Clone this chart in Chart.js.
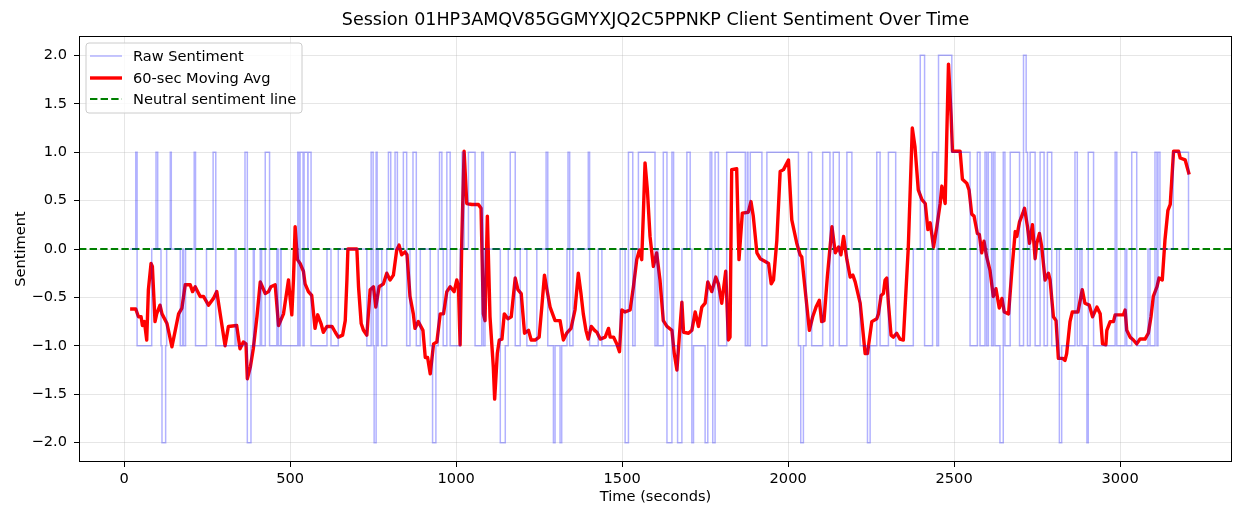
<!DOCTYPE html>
<html><head><meta charset="utf-8">
<script src="https://cdn.jsdelivr.net/npm/chart.js@4.4.1/dist/chart.umd.min.js"></script>
<style>html,body{margin:0;padding:0;background:#fff;overflow:hidden;}#wrap{width:1234px;height:506px;}</style>
</head><body><div id="wrap"><canvas id="c" width="1234" height="506"></canvas></div>
<script>
const chartTitle = "Session 01HP3AMQV85GGMYXJQ2C5PPNKP Client Sentiment Over Time";
const xAxisLabel = "Time (seconds)";
const yAxisLabel = "Sentiment";
const seriesNames = ["Raw Sentiment", "60-sec Moving Avg", "Neutral sentiment line"];
const xTicks = [0, 500, 1000, 1500, 2000, 2500, 3000];
const yTicks = [-2, -1.5, -1, -0.5, 0, 0.5, 1, 1.5, 2];
const xRange = [-136, 3337];
const yRange = [-2.2, 2.2];
const neutralLevel = 0;

// [time (s), sentiment] – value holds from this time until the next entry
const rawSentiment = [
[18,0],[35,1],[39,-1],[83,0],[96,1],[101,0],[111,-1],[114,-2],[125,-1],[128,0],
[139,1],[142,0],[169,-1],[176,0],[179,-1],[185,0],[211,1],[215,-1],[248,0],[268,1],
[276,-1],[334,0],[337,-1],[364,1],[371,-2],[382,-1],[389,0],[392,-1],[410,0],[414,-1],
[425,1],[438,-1],[460,0],[464,-1],[471,0],[473,-1],[523,1],[527,-1],[530,1],[539,-1],
[542,1],[553,0],[554,1],[563,-1],[611,0],[623,-1],[645,0],[731,-1],[744,1],[750,-1],
[753,-2],[759,1],[762,-1],[765,0],[776,-1],[791,0],[796,1],[803,0],[816,1],[823,0],
[841,1],[851,-1],[861,0],[870,1],[880,-1],[892,0],[922,-1],[929,-2],[939,-1],[946,0],
[950,1],[957,0],[961,-1],[972,1],[982,-1],[1012,0],[1018,1],[1024,0],[1037,1],[1057,-1],
[1077,1],[1082,-1],[1087,0],[1133,-2],[1148,-1],[1157,0],[1163,1],[1178,-1],[1193,0],[1213,-1],
[1243,0],[1271,1],[1276,-1],[1293,-2],[1298,-1],[1313,-2],[1318,-1],[1334,0],[1337,1],[1342,-1],
[1352,0],[1398,1],[1402,-1],[1428,0],[1439,-1],[1494,0],[1509,-2],[1519,1],[1532,-1],[1539,0],
[1549,1],[1599,-1],[1605,0],[1608,-1],[1624,1],[1635,-2],[1650,1],[1655,-1],[1667,-2],[1680,0],
[1695,1],[1705,0],[1710,-2],[1715,-1],[1750,-2],[1758,0],[1765,1],[1770,0],[1773,-2],[1780,1],
[1790,-1],[1815,1],[1871,-1],[1877,1],[1879,-1],[1886,1],[1921,-1],[1936,1],[2031,-1],[2038,-2],
[2046,-1],[2054,0],[2061,1],[2071,-1],[2104,1],[2126,-1],[2136,1],[2154,-1],[2177,1],[2192,0],
[2217,-1],[2239,-2],[2247,-1],[2267,1],[2277,-1],[2302,1],[2324,-1],[2377,0],[2398,2],[2411,-1],
[2435,1],[2448,-1],[2453,2],[2493,1],[2548,-1],[2570,1],[2578,-1],[2593,1],[2598,-1],[2603,1],
[2613,-1],[2618,1],[2623,-1],[2638,-2],[2648,1],[2653,-1],[2669,1],[2697,-1],[2709,2],[2717,1],
[2721,-1],[2729,1],[2744,-1],[2759,1],[2771,-1],[2781,1],[2794,-1],[2809,0],[2817,-2],[2824,-1],
[2864,1],[2871,-1],[2879,0],[2885,-1],[2900,-2],[2904,1],[2920,-1],[2985,1],[2990,-1],[3015,0],
[3020,-1],[3035,1],[3050,-1],[3084,0],[3090,-1],[3105,1],[3111,-1],[3114,1],[3120,0],[3160,1],
[3206,0]
];

// [time (s), 60-sec moving average]
const movingAvg = [
[18,-0.62],[35,-0.62],[43,-0.70],[51,-0.70],[55,-0.79],[61,-0.75],[68,-0.94],[73,-0.42],[81,-0.15],[85,-0.18],
[93,-0.75],[98,-0.67],[108,-0.58],[114,-0.67],[129,-0.77],[144,-1.01],[154,-0.84],[164,-0.67],[174,-0.61],[184,-0.37],
[199,-0.37],[206,-0.44],[214,-0.39],[229,-0.49],[239,-0.49],[254,-0.58],[269,-0.51],[279,-0.44],[304,-1.00],[314,-0.80],
[339,-0.79],[349,-1.03],[359,-0.96],[367,-0.98],[371,-1.34],[380,-1.22],[389,-1.03],[400,-0.70],[410,-0.34],[425,-0.46],
[435,-0.44],[442,-0.39],[455,-0.37],[465,-0.79],[480,-0.67],[495,-0.32],[500,-0.51],[505,-0.68],[510,-0.32],[515,0.23],
[522,-0.11],[530,-0.15],[540,-0.23],[545,-0.36],[555,-0.44],[565,-0.48],[575,-0.82],[583,-0.68],[593,-0.77],[600,-0.86],
[611,-0.80],[626,-0.80],[636,-0.86],[645,-0.91],[658,-0.89],[666,-0.74],[671,-0.32],[674,0.00],[701,0.00],[706,-0.39],
[714,-0.77],[721,-0.84],[731,-0.89],[741,-0.42],[751,-0.39],[758,-0.60],[768,-0.39],[781,-0.36],[791,-0.25],[801,-0.32],
[811,-0.27],[821,-0.01],[828,0.04],[836,-0.06],[846,-0.03],[852,-0.06],[861,-0.49],[871,-0.67],[876,-0.82],[886,-0.75],
[900,-0.84],[907,-1.12],[914,-1.12],[922,-1.29],[932,-0.98],[942,-0.96],[952,-0.67],[962,-0.67],[972,-0.44],[982,-0.39],
[994,-0.44],[1002,-0.32],[1007,-0.39],[1012,-0.99],[1017,0.09],[1024,1.01],[1032,0.47],[1047,0.46],[1067,0.46],[1075,0.42],
[1082,-0.67],[1087,-0.74],[1094,0.34],[1102,-0.70],[1112,-1.22],[1116,-1.55],[1124,-1.08],[1130,-0.94],[1138,-0.93],[1145,-0.67],
[1156,-0.72],[1166,-0.70],[1178,-0.30],[1186,-0.42],[1196,-0.46],[1206,-0.87],[1218,-0.84],[1226,-0.94],[1238,-0.94],[1250,-0.91],
[1258,-0.60],[1266,-0.27],[1273,-0.41],[1283,-0.60],[1298,-0.74],[1313,-0.74],[1323,-0.94],[1333,-0.87],[1346,-0.82],[1358,-0.63],
[1368,-0.25],[1376,-0.46],[1383,-0.67],[1391,-0.84],[1398,-0.93],[1407,-0.80],[1417,-0.84],[1424,-0.86],[1434,-0.93],[1449,-0.91],
[1459,-0.82],[1464,-0.91],[1474,-0.91],[1484,-0.98],[1492,-1.06],[1499,-0.63],[1509,-0.65],[1524,-0.63],[1534,-0.39],[1544,-0.11],
[1552,-0.01],[1559,-0.11],[1564,0.37],[1569,0.89],[1576,0.61],[1584,0.13],[1594,-0.18],[1604,-0.04],[1614,-0.32],[1624,-0.74],
[1635,-0.80],[1650,-0.84],[1657,-1.08],[1665,-1.25],[1673,-0.87],[1680,-0.55],[1685,-0.86],[1700,-0.87],[1710,-0.84],[1720,-0.65],
[1730,-0.80],[1740,-0.60],[1750,-0.56],[1758,-0.34],[1770,-0.44],[1782,-0.29],[1790,-0.36],[1800,-0.56],[1812,-0.23],[1820,-0.94],
[1825,-0.91],[1830,0.82],[1845,0.83],[1852,-0.11],[1862,0.37],[1880,0.38],[1888,0.49],[1895,0.34],[1906,-0.04],[1916,-0.10],
[1931,-0.13],[1941,-0.15],[1949,-0.36],[1956,-0.32],[1966,0.09],[1976,0.80],[1986,0.82],[2001,0.92],[2011,0.30],[2026,0.06],
[2036,-0.06],[2041,-0.08],[2064,-0.84],[2074,-0.70],[2084,-0.60],[2094,-0.53],[2101,-0.75],[2108,-0.74],[2118,-0.29],[2132,0.23],
[2142,-0.04],[2152,0.02],[2159,-0.06],[2167,0.13],[2177,-0.11],[2187,-0.29],[2195,-0.27],[2202,-0.34],[2217,-0.56],[2232,-1.08],
[2239,-1.08],[2252,-0.75],[2267,-0.72],[2272,-0.67],[2280,-0.48],[2287,-0.46],[2292,-0.32],[2297,-0.30],[2302,-0.56],[2310,-0.89],
[2317,-0.91],[2327,-0.87],[2337,-0.93],[2347,-0.94],[2362,0.02],[2374,1.25],[2382,1.06],[2392,0.61],[2403,0.51],[2413,0.47],
[2421,0.20],[2428,0.27],[2438,0.02],[2448,0.23],[2458,0.47],[2463,0.65],[2473,0.47],[2483,1.91],[2491,1.37],[2495,1.01],
[2518,1.01],[2525,0.72],[2538,0.68],[2545,0.61],[2553,0.36],[2560,0.34],[2570,0.16],[2576,0.15],[2583,-0.04],[2590,0.08],
[2598,-0.08],[2608,-0.22],[2618,-0.49],[2626,-0.41],[2636,-0.61],[2644,-0.51],[2651,-0.65],[2664,-0.67],[2674,-0.22],[2684,0.18],
[2689,0.13],[2697,0.28],[2707,0.37],[2712,0.42],[2721,0.23],[2727,0.06],[2736,0.25],[2744,-0.10],[2749,0.06],[2757,0.16],
[2764,0.02],[2774,-0.32],[2784,-0.25],[2789,-0.32],[2799,-0.70],[2807,-0.74],[2814,-1.13],[2827,-1.13],[2834,-1.15],[2839,-1.08],
[2849,-0.75],[2856,-0.65],[2873,-0.65],[2886,-0.42],[2894,-0.56],[2907,-0.58],[2917,-0.70],[2930,-0.60],[2940,-0.67],[2947,-0.98],
[2957,-0.99],[2960,-0.84],[2970,-0.75],[2980,-0.75],[2985,-0.68],[3010,-0.68],[3015,-0.63],[3020,-0.84],[3030,-0.91],[3040,-0.94],
[3050,-0.98],[3060,-0.93],[3075,-0.93],[3085,-0.87],[3093,-0.70],[3100,-0.49],[3111,-0.39],[3117,-0.30],[3127,-0.32],[3135,0.09],
[3144,0.40],[3151,0.46],[3161,1.01],[3176,1.01],[3181,0.94],[3196,0.92],[3208,0.77]
];

const FONT = "'DejaVu Sans', 'Liberation Sans', sans-serif";
const COLORS = { raw: 'rgba(0,0,255,0.3)', avg: '#ff0000', neutral: '#008000' };
const DASH = [7.4, 3.2];
const FS = 14.6;

const framePlugin = {
  id: 'frame',
  afterDatasetsDraw(c) {
    const { ctx, chartArea: a } = c;
    ctx.save();
    ctx.strokeStyle = '#000';
    ctx.lineWidth = 1;
    ctx.strokeRect(Math.round(a.left) + 0.5, Math.round(a.top) + 0.5, Math.round(a.right - a.left) - 1, Math.round(a.bottom - a.top) - 1);
    ctx.restore();
  }
};

const legendPlugin = {
  id: 'mplLegend',
  afterDraw(c) {
    const ctx = c.ctx;
    const a = c.chartArea;
    const x0 = a.left + 7, y0 = a.top + 7, w = 216, h = 70, r = 3;
    ctx.save();
    ctx.beginPath();
    ctx.moveTo(x0 + r, y0);
    ctx.lineTo(x0 + w - r, y0); ctx.arcTo(x0 + w, y0, x0 + w, y0 + r, r);
    ctx.lineTo(x0 + w, y0 + h - r); ctx.arcTo(x0 + w, y0 + h, x0 + w - r, y0 + h, r);
    ctx.lineTo(x0 + r, y0 + h); ctx.arcTo(x0, y0 + h, x0, y0 + h - r, r);
    ctx.lineTo(x0, y0 + r); ctx.arcTo(x0, y0, x0 + r, y0, r);
    ctx.closePath();
    ctx.fillStyle = 'rgba(255,255,255,0.8)';
    ctx.fill();
    ctx.strokeStyle = '#cccccc';
    ctx.lineWidth = 1;
    ctx.stroke();
    const rows = [
      { y: y0 + 13, color: COLORS.raw, lw: 1.5, dash: [] },
      { y: y0 + 35, color: COLORS.avg, lw: 3.4, dash: [] },
      { y: y0 + 56, color: COLORS.neutral, lw: 2, dash: DASH }
    ];
    ctx.font = FS + 'px ' + FONT;
    ctx.textBaseline = 'middle';
    ctx.textAlign = 'left';
    rows.forEach((row, i) => {
      ctx.beginPath();
      ctx.setLineDash(row.dash);
      ctx.strokeStyle = row.color;
      ctx.lineWidth = row.lw;
      ctx.moveTo(x0 + 4, row.y);
      ctx.lineTo(x0 + 36, row.y);
      ctx.stroke();
      ctx.setLineDash([]);
      ctx.fillStyle = '#000';
      ctx.fillText(seriesNames[i], x0 + 47, row.y + 1);
    });
    ctx.restore();
  }
};

const gridColor = 'rgba(176,176,176,0.32)';
const tickFont = { family: FONT, size: FS };

new Chart(document.getElementById('c'), {
  type: 'line',
  data: {
    datasets: [
      { label: seriesNames[0], data: rawSentiment.map(p => ({ x: p[0], y: p[1] })), stepped: 'before',
        borderColor: COLORS.raw, borderWidth: 1.5, pointRadius: 0, fill: false },
      { label: seriesNames[1], data: movingAvg.map(p => ({ x: p[0], y: p[1] })), tension: 0,
        borderColor: COLORS.avg, borderWidth: 3.4, pointRadius: 0, fill: false, borderJoinStyle: 'round' },
      { label: seriesNames[2], data: [{ x: xRange[0], y: neutralLevel }, { x: xRange[1], y: neutralLevel }],
        borderColor: COLORS.neutral, borderWidth: 2, borderDash: DASH, pointRadius: 0, fill: false }
    ]
  },
  options: {
    responsive: false, animation: false, devicePixelRatio: 1,
    events: [],
    layout: { padding: { left: 0, right: 2, top: 0, bottom: 0 } },
    plugins: {
      legend: { display: false },
      tooltip: { enabled: false },
      title: { display: true, text: chartTitle, fullSize: false, color: '#000',
        font: { family: FONT, size: 17.5, weight: 'normal' }, padding: { top: 10, bottom: 5 } }
    },
    scales: {
      x: {
        type: 'linear', min: xRange[0], max: xRange[1],
        afterBuildTicks: s => { s.ticks = xTicks.map(v => ({ value: v })); },
        afterFit: s => { s.height = 44; },
        ticks: { font: tickFont, color: '#000', padding: 3, maxRotation: 0, autoSkip: false, callback: v => String(v) },
        grid: { color: gridColor, tickColor: '#000', tickLength: 5, lineWidth: 1 },
        border: { display: false },
        title: { display: true, text: xAxisLabel, color: '#000', font: tickFont, padding: { top: 0, bottom: 0 } }
      },
      y: {
        type: 'linear', min: yRange[0], max: yRange[1],
        afterBuildTicks: s => { s.ticks = yTicks.map(v => ({ value: v })); },
        afterFit: s => { s.width = 79; },
        ticks: { font: tickFont, color: '#000', padding: 7, autoSkip: false,
          callback: v => (v < 0 ? '\u2212' : '') + Math.abs(v).toFixed(1) },
        grid: { color: gridColor, tickColor: '#000', tickLength: 5, lineWidth: 1 },
        border: { display: false },
        title: { display: true, text: yAxisLabel, color: '#000', font: tickFont, padding: { top: 12, bottom: 0 } }
      }
    }
  },
  plugins: [framePlugin, legendPlugin]
});
</script>
</body></html>
